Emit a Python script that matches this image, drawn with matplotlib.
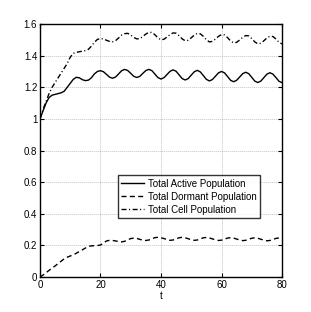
import numpy as np
import matplotlib
matplotlib.use('Agg')
import matplotlib.pyplot as plt
from matplotlib.ticker import FormatStrFormatter

plt.rcParams['font.family'] = ['Liberation Sans', 'DejaVu Sans']

# time axis, one sample per unit
t = list(range(0, 81))

active = [1.000, 1.050, 1.100, 1.135, 1.150, 1.155, 1.160, 1.165, 1.175, 1.200,
          1.225, 1.250, 1.263, 1.260, 1.248, 1.242, 1.245, 1.260, 1.285, 1.300,
          1.305, 1.298, 1.281, 1.264, 1.257, 1.265, 1.285, 1.305, 1.313, 1.306,
          1.288, 1.269, 1.262, 1.269, 1.288, 1.306, 1.313, 1.305, 1.283, 1.261,
          1.252, 1.261, 1.281, 1.301, 1.310, 1.301, 1.278, 1.255, 1.246, 1.255,
          1.277, 1.298, 1.307, 1.297, 1.274, 1.250, 1.240, 1.249, 1.270, 1.291,
          1.300, 1.291, 1.268, 1.244, 1.235, 1.244, 1.265, 1.286, 1.295, 1.286,
          1.263, 1.239, 1.230, 1.239, 1.261, 1.283, 1.292, 1.283, 1.261, 1.238,
          1.229]

dormant = [0.000, 0.012, 0.027, 0.042, 0.056, 0.070, 0.085, 0.100, 0.115, 0.125,
           0.133, 0.140, 0.150, 0.162, 0.172, 0.183, 0.193, 0.197, 0.198, 0.199,
           0.202, 0.215, 0.228, 0.232, 0.231, 0.228, 0.224, 0.222, 0.226, 0.235,
           0.243, 0.246, 0.244, 0.238, 0.233, 0.231, 0.234, 0.242, 0.249, 0.251,
           0.248, 0.243, 0.237, 0.232, 0.234, 0.241, 0.248, 0.251, 0.248, 0.242,
           0.236, 0.232, 0.234, 0.241, 0.248, 0.250, 0.247, 0.241, 0.235, 0.231,
           0.233, 0.240, 0.246, 0.249, 0.246, 0.240, 0.234, 0.230, 0.232, 0.239,
           0.245, 0.248, 0.245, 0.239, 0.233, 0.229, 0.231, 0.238, 0.244, 0.247,
           0.245]

total = [1.000, 1.060, 1.110, 1.160, 1.200, 1.230, 1.260, 1.290, 1.320, 1.350,
         1.390, 1.415, 1.420, 1.425, 1.428, 1.432, 1.440, 1.460, 1.485, 1.503,
         1.508, 1.506, 1.497, 1.490, 1.488, 1.495, 1.512, 1.530, 1.539, 1.541,
         1.531, 1.515, 1.506, 1.507, 1.521, 1.537, 1.547, 1.547, 1.532, 1.512,
         1.500, 1.504, 1.518, 1.533, 1.544, 1.542, 1.526, 1.506, 1.494, 1.497,
         1.513, 1.530, 1.541, 1.538, 1.522, 1.500, 1.487, 1.490, 1.505, 1.522,
         1.533, 1.531, 1.514, 1.493, 1.481, 1.484, 1.499, 1.516, 1.527, 1.525,
         1.508, 1.487, 1.475, 1.478, 1.494, 1.512, 1.523, 1.521, 1.505, 1.485,
         1.474]

labels = ['Total Active Population', 'Total Dormant Population', 'Total Cell Population']
xticks = [0, 20, 40, 60, 80]
yticks = [0, 0.2, 0.4, 0.6, 0.8, 1.0, 1.2, 1.4, 1.6]

fig = plt.figure(figsize=(3.11, 3.12), dpi=100)
ax = fig.add_axes([0.1286, 0.1122, 0.7782, 0.8108])

ax.plot(t, active, color='black', lw=1.0, label=labels[0])
ax.plot(t, dormant, color='black', lw=1.0, dashes=[3.6, 2.4], label=labels[1])
ax.plot(t, total, color='black', lw=1.0, dashes=[3.6, 1.8, 0.8, 1.8], label=labels[2])

ax.set_xlim(0, 80)
ax.set_ylim(0, 1.6)
ax.set_xticks(xticks)
ax.set_yticks(yticks)
ax.yaxis.set_major_formatter(FormatStrFormatter('%g'))
ax.grid(True, color='#999999', linestyle=(0, (0.8, 1.6)), lw=0.6)
ax.tick_params(direction='in', top=True, right=True, length=3, width=0.8,
               labelsize=7, pad=2, colors='black')
for s in ax.spines.values():
    s.set_linewidth(1.0)
ax.set_xlabel('t', fontsize=7, labelpad=1)

leg = ax.legend(loc='lower left', bbox_to_anchor=(0.322, 0.233), fontsize=7,
                frameon=True, fancybox=False, handlelength=2.3, handletextpad=0.4,
                labelspacing=0.3, borderpad=0.35, borderaxespad=0)
leg.get_frame().set_edgecolor('black')
leg.get_frame().set_linewidth(1.0)

fig.savefig('out.png', dpi=100)
